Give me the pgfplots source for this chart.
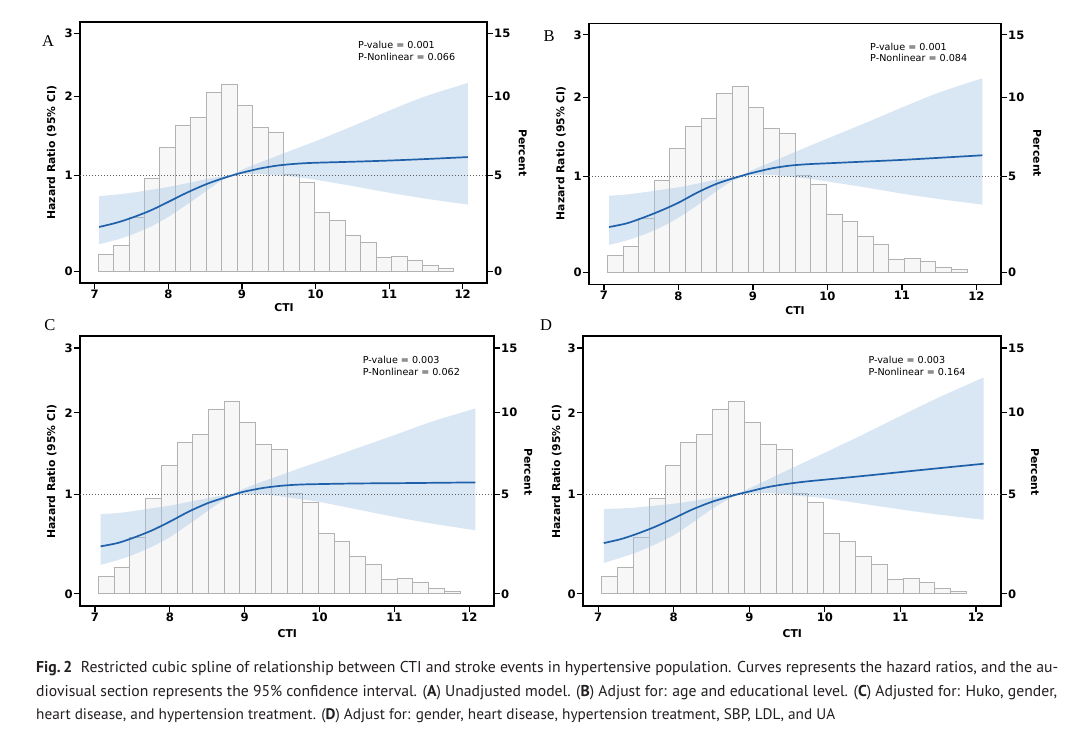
\documentclass[border=0pt]{standalone}
\usepackage{fontspec}
\setmainfont{DejaVu Sans}
\newfontfamily\capfont{PT Sans}
\newfontfamily\letterfont{Liberation Serif}
\usepackage{graphicx}
\usepackage{pgfplots}
\usepackage{pgfplotstable}
\pgfplotsset{compat=1.18}

\definecolor{curveblue}{RGB}{30,96,170}
\definecolor{bandblue}{RGB}{165,197,230}
\definecolor{barfill}{RGB}{247,247,247}
\definecolor{baredge}{RGB}{178,178,178}

% histogram (percent), bin left edges; last row = right edge
\pgfplotstableread{
x pct
7.045 0.83
7.255 1.27
7.465 2.72
7.675 4.81
7.885 6.67
8.095 8.05
8.305 8.55
8.515 10.26
8.725 10.81
8.935 9.33
9.145 7.92
9.355 7.60
9.565 5.05
9.775 4.58
9.985 2.95
10.195 2.55
10.405 1.79
10.615 1.39
10.825 0.66
11.035 0.70
11.245 0.53
11.455 0.27
11.665 0.13
11.875 0.13
}\hist

\pgfplotstableread{
x hr lo hi
7.06 0.440 0.264 0.768
7.30 0.485 0.310 0.785
7.50 0.535 0.360 0.805
7.75 0.610 0.440 0.835
8.00 0.705 0.545 0.870
8.25 0.805 0.675 0.910
8.50 0.895 0.815 0.955
8.70 0.955 0.930 0.985
8.87 1.000 0.995 1.005
9.00 1.030 1.015 1.065
9.25 1.080 1.015 1.150
9.50 1.115 1.000 1.235
9.75 1.135 0.980 1.320
10.00 1.146 0.950 1.405
10.50 1.158 0.880 1.595
11.00 1.172 0.805 1.800
11.50 1.190 0.740 2.000
12.07 1.213 0.676 2.190
}\dataA

\pgfplotstableread{
x hr lo hi
7.07 0.453 0.271 0.786
7.30 0.490 0.315 0.800
7.50 0.543 0.365 0.820
7.75 0.620 0.445 0.850
8.00 0.710 0.550 0.880
8.25 0.820 0.680 0.920
8.50 0.915 0.830 0.965
8.70 0.972 0.940 0.990
8.85 1.010 0.995 1.020
9.00 1.045 1.020 1.080
9.25 1.095 1.020 1.170
9.50 1.128 1.000 1.265
9.75 1.145 0.975 1.360
10.00 1.155 0.945 1.455
10.50 1.175 0.880 1.650
11.00 1.195 0.810 1.860
11.50 1.220 0.750 2.070
12.08 1.250 0.690 2.280
}\dataB

\pgfplotstableread{
x hr lo hi
7.075 0.457 0.275 0.790
7.30 0.490 0.320 0.800
7.50 0.540 0.370 0.820
7.75 0.615 0.450 0.850
8.00 0.710 0.550 0.880
8.25 0.815 0.680 0.920
8.50 0.905 0.820 0.960
8.70 0.960 0.930 0.990
8.85 1.000 0.990 1.015
9.00 1.035 1.000 1.070
9.25 1.075 1.000 1.150
9.50 1.100 0.980 1.225
9.75 1.113 0.950 1.305
10.00 1.118 0.920 1.380
10.50 1.125 0.840 1.540
11.00 1.128 0.760 1.705
11.50 1.132 0.690 1.880
12.08 1.137 0.620 2.058
}\dataC

\pgfplotstableread{
x hr lo hi
7.075 0.490 0.292 0.845
7.30 0.530 0.345 0.850
7.50 0.580 0.395 0.860
7.75 0.655 0.475 0.880
8.00 0.745 0.570 0.900
8.25 0.840 0.700 0.930
8.50 0.920 0.840 0.965
8.70 0.970 0.940 0.990
8.85 1.005 0.995 1.015
9.00 1.035 1.010 1.070
9.25 1.085 1.020 1.170
9.50 1.120 1.000 1.275
9.75 1.147 0.980 1.380
10.00 1.168 0.960 1.485
10.50 1.210 0.900 1.710
11.00 1.255 0.840 1.955
11.50 1.300 0.785 2.210
12.10 1.353 0.730 2.510
}\dataD

% The reference's vertical scale is non-linear: display = 1.0868*HR - 0.0868*HR^2
% (percent axis = same scale on HR = percent/5).
\pgfplotsset{
  base/.style={
    scale only axis, anchor=south west,
    xmin=6.8, xmax=12.33, ymin=-0.123, ymax=2.60,
    tick align=outside, major tick length=6pt,
    every tick/.style={black, line width=1.2pt},
    axis line style={line width=1.4pt},
    tick label style={font=\bfseries\fontsize{11.6}{13}\selectfont, inner sep=1pt},
    /pgf/number format/assume math mode=true,
  },
  hraxis/.style={base,
    ytick={0,1,1.8264,2.4792}, yticklabels={0,1,2,3},
    ytick pos=left, yticklabel pos=left,
    xtick={7,8,9,10,11,12}, xtick pos=left,
  },
  histaxis/.style={base,
    ytick={0,1,1.8264,2.4792}, yticklabels={0,5,10,15},
    ytick pos=right, yticklabel pos=right,
    xtick=\empty,
  },
  bandaxis/.style={base, hide axis, stack plots=y},
}

\newcommand{\panel}[5]{%
  \begin{axis}[histaxis, at={(#2pt,#3pt)}, width=#4pt, height=#5pt]
    \addplot[ybar interval, fill=barfill, draw=baredge, line width=0.8pt]
      table[x=x, y expr={0.21736*\thisrow{pct}-0.003472*\thisrow{pct}*\thisrow{pct}}]{\hist};
  \end{axis}
  \begin{axis}[bandaxis, at={(#2pt,#3pt)}, width=#4pt, height=#5pt]
    \addplot[draw=none, smooth]
      table[x=x, y expr={1.0868*\thisrow{lo}-0.0868*\thisrow{lo}*\thisrow{lo}}]{#1};
    \addplot[fill=bandblue, fill opacity=0.42, draw=none, smooth]
      table[x=x, y expr={1.0868*\thisrow{hi}-0.0868*\thisrow{hi}*\thisrow{hi}-1.0868*\thisrow{lo}+0.0868*\thisrow{lo}*\thisrow{lo}}]{#1} \closedcycle;
  \end{axis}
  \begin{axis}[hraxis, at={(#2pt,#3pt)}, width=#4pt, height=#5pt]
    \addplot[color={rgb,255:red,95;green,95;blue,95}, line width=0.9pt, dash pattern=on 1pt off 2pt] coordinates {(6.8,1) (12.33,1)};
    \addplot[curveblue, line width=1.7pt, smooth]
      table[x=x, y expr={1.0868*\thisrow{hr}-0.0868*\thisrow{hr}*\thisrow{hr}}]{#1};
  \end{axis}}

\newcommand{\lab}{\bfseries\fontsize{10.8}{12}\selectfont}
\newcommand{\ptxt}{\fontsize{9.6}{11}\selectfont}
\newcommand{\letter}{\letterfont\fontsize{16.5}{18}\selectfont}

\begin{document}
\begin{tikzpicture}
\fill[white] (0pt,0pt) rectangle (1080pt,729pt);

\panel{\dataA}{80}{446}{407}{261}
\panel{\dataB}{589}{444.7}{412}{261}
\panel{\dataC}{80}{123}{414}{270}
\panel{\dataD}{583}{123}{418}{270}

% panel letters
\node at (48pt,688.3pt) {\letter A};
\node at (549pt,693pt) {\letter B};
\node at (50pt,404pt) {\letter C};
\node at (546pt,404pt) {\letter D};

% axis labels
\node[rotate=90] at (51.7pt,576.3pt) {\lab Hazard Ratio (95\% CI)};
\node[rotate=-90] at (522.7pt,576.3pt) {\lab Percent};
\node at (284pt,421pt) {\lab CTI};

\node[rotate=90] at (561pt,575.7pt) {\lab Hazard Ratio (95\% CI)};
\node[rotate=-90] at (1037.3pt,575.7pt) {\lab Percent};
\node at (795pt,418pt) {\lab CTI};

\node[rotate=90] at (51.7pt,257.3pt) {\lab Hazard Ratio (95\% CI)};
\node[rotate=-90] at (528.3pt,257.3pt) {\lab Percent};
\node at (287.3pt,95.7pt) {\lab CTI};

\node[rotate=90] at (556.7pt,257.3pt) {\lab Hazard Ratio (95\% CI)};
\node[rotate=-90] at (1035pt,257.3pt) {\lab Percent};
\node at (792.3pt,95.7pt) {\lab CTI};

% p-values
\node[anchor=west, inner sep=0] at (358pt,684pt) {\ptxt P-value = 0.001};
\node[anchor=west, inner sep=0] at (358pt,672.5pt) {\ptxt P-Nonlinear = 0.066};
\node[anchor=west, inner sep=0] at (870pt,682.3pt) {\ptxt P-value = 0.001};
\node[anchor=west, inner sep=0] at (870pt,670.7pt) {\ptxt P-Nonlinear = 0.084};
\node[anchor=west, inner sep=0] at (362.7pt,369pt) {\ptxt P-value = 0.003};
\node[anchor=west, inner sep=0] at (362.7pt,356.7pt) {\ptxt P-Nonlinear = 0.062};
\node[anchor=west, inner sep=0] at (868.3pt,369pt) {\ptxt P-value = 0.003};
\node[anchor=west, inner sep=0] at (868.3pt,356.7pt) {\ptxt P-Nonlinear = 0.164};

% caption
\node[anchor=base west, inner sep=0, text={rgb,255:red,35;green,31;blue,32}] at (36pt,56.5pt) {\resizebox{1022pt}{!}{\capfont\fontsize{14.2}{16}\selectfont\textbf{Fig.\,2}\hspace{0.55em}Restricted cubic spline of relationship between CTI and stroke events in hypertensive population. Curves represents the hazard ratios, and the au-}};
\node[anchor=base west, inner sep=0, text={rgb,255:red,35;green,31;blue,32}] at (36pt,32.5pt) {\resizebox{1021pt}{!}{\capfont\fontsize{14.2}{16}\selectfont diovisual section represents the 95\% confidence interval. (\textbf{A}) Unadjusted model. (\textbf{B}) Adjust for: age and educational level. (\textbf{C}) Adjusted for: Huko, gender,}};
\node[anchor=base west, inner sep=0, text={rgb,255:red,35;green,31;blue,32}] at (36pt,9.5pt) {\resizebox{799pt}{!}{\capfont\fontsize{14.2}{16}\selectfont heart disease, and hypertension treatment. (\textbf{D}) Adjust for: gender, heart disease, hypertension treatment, SBP, LDL, and UA}};
\end{tikzpicture}
\end{document}
